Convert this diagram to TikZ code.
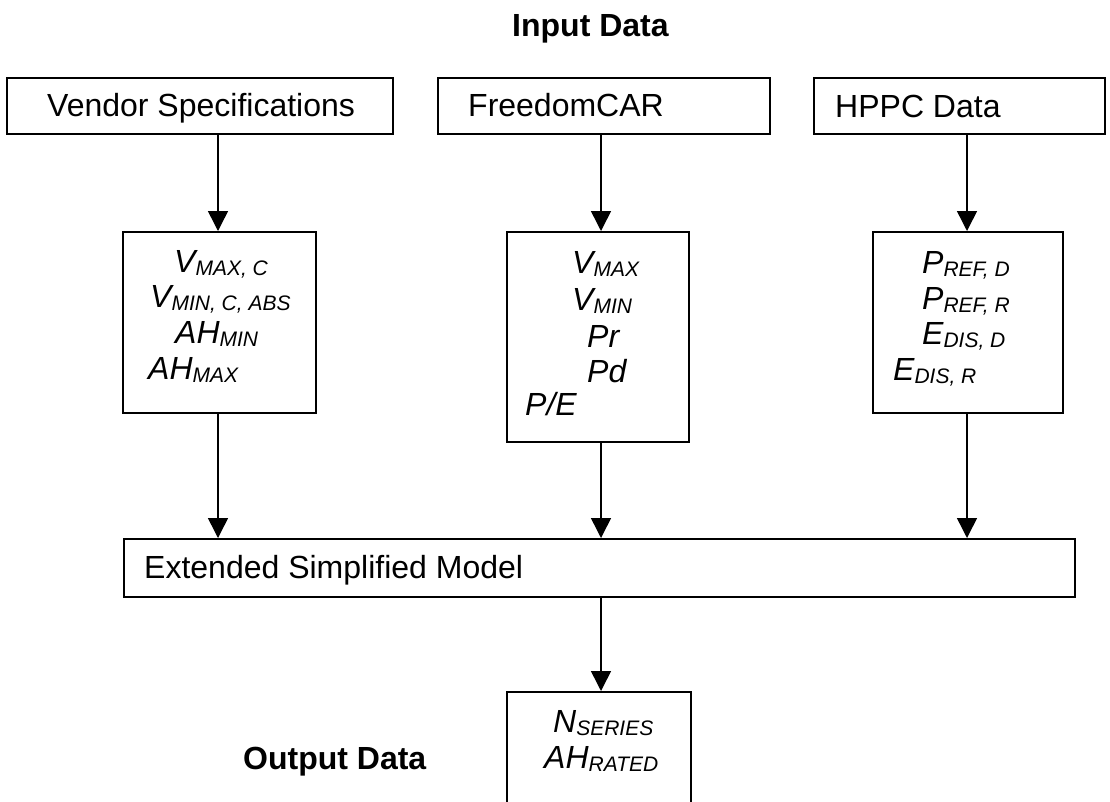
\documentclass[tikz,border=0pt]{standalone}
\usepackage{fontspec}
\setmainfont{Liberation Sans}
\usetikzlibrary{arrows.meta}
\newcommand{\sbs}[1]{{\fontsize{21}{21}\selectfont\raisebox{-3pt}{#1}}}
\begin{document}
\begin{tikzpicture}[x=1pt,y=-1pt,
  box/.style={draw, line width=1.5pt, inner sep=0pt, anchor=north west},
  lab/.style={anchor=base west, inner sep=0pt, font=\fontsize{32}{38}\selectfont},
  var/.style={anchor=base west, inner sep=0pt, font=\fontsize{32}{38}\selectfont\itshape},
  hd/.style={anchor=base west, inner sep=0pt, font=\fontsize{32}{38}\selectfont\bfseries},
  arr/.style={line width=1.5pt, -{Triangle[length=20pt,width=20pt]}}]
\clip (0,0) rectangle (1110,801);
\fill[white] (0,0) rectangle (1110,801);
% boxes
\node[box, minimum width=386pt, minimum height=56pt] (vs) at (6,77) {};
\node[box, minimum width=332pt, minimum height=56pt] (fc) at (437,77) {};
\node[box, minimum width=291pt, minimum height=56pt] (hp) at (813,77) {};
\node[box, minimum width=193pt, minimum height=181pt] (vv) at (122,231) {};
\node[box, minimum width=182pt, minimum height=210pt] (fv) at (506,231) {};
\node[box, minimum width=190pt, minimum height=181pt] (hv) at (872,231) {};
\node[box, minimum width=951pt, minimum height=58pt] (em) at (123,538) {};
\node[box, minimum width=184pt, minimum height=150pt] (od) at (506,691) {};
% labels
\node[hd] (tin) at (512,36) {Input Data};
\node[lab] (tvs) at (47,116) {Vendor Specifications};
\node[lab] (tfc) at (468,116) {FreedomCAR};
\node[lab] (thp) at (835,117) {HPPC Data};
\node[lab] (tem) at (144,578) {Extended Simplified Model};
\node[hd] (tod) at (243,769) {Output Data};
% vendor values
\node[var] (v1) at (174,272) {V\sbs{MAX, C}};
\node[var] (v2) at (150,307) {V\sbs{MIN, C, ABS}};
\node[var] (v3) at (175,343) {AH\sbs{MIN}};
\node[var] (v4) at (148,379) {AH\sbs{MAX}};
% freedomcar values
\node[var] (f1) at (572,273) {V\sbs{MAX}};
\node[var] (f2) at (572,310) {V\sbs{MIN}};
\node[var] (f3) at (587,347) {Pr};
\node[var] (f4) at (587,382) {Pd};
\node[var] (f5) at (525,415) {P/E};
% hppc values
\node[var] (h1) at (922,273) {P\sbs{REF, D}};
\node[var] (h2) at (922,309) {P\sbs{REF, R}};
\node[var] (h3) at (922,344) {E\sbs{DIS, D}};
\node[var] (h4) at (893,380) {E\sbs{DIS, R}};
% output values
\node[var] (o1) at (553,732) {N\sbs{SERIES}};
\node[var] (o2) at (544,768) {AH\sbs{RATED}};
% arrows
\coordinate (xa) at (218,0);
\coordinate (xb) at (601,0);
\coordinate (xc) at (967,0);
\draw[arr] (vs.south -| xa) -- (vv.north -| xa);
\draw[arr] (fc.south -| xb) -- (fv.north -| xb);
\draw[arr] (hp.south -| xc) -- (hv.north -| xc);
\draw[arr] (vv.south -| xa) -- (em.north -| xa);
\draw[arr] (fv.south -| xb) -- (em.north -| xb);
\draw[arr] (hv.south -| xc) -- (em.north -| xc);
\draw[arr] (em.south -| xb) -- (od.north -| xb);
\end{tikzpicture}
\end{document}
